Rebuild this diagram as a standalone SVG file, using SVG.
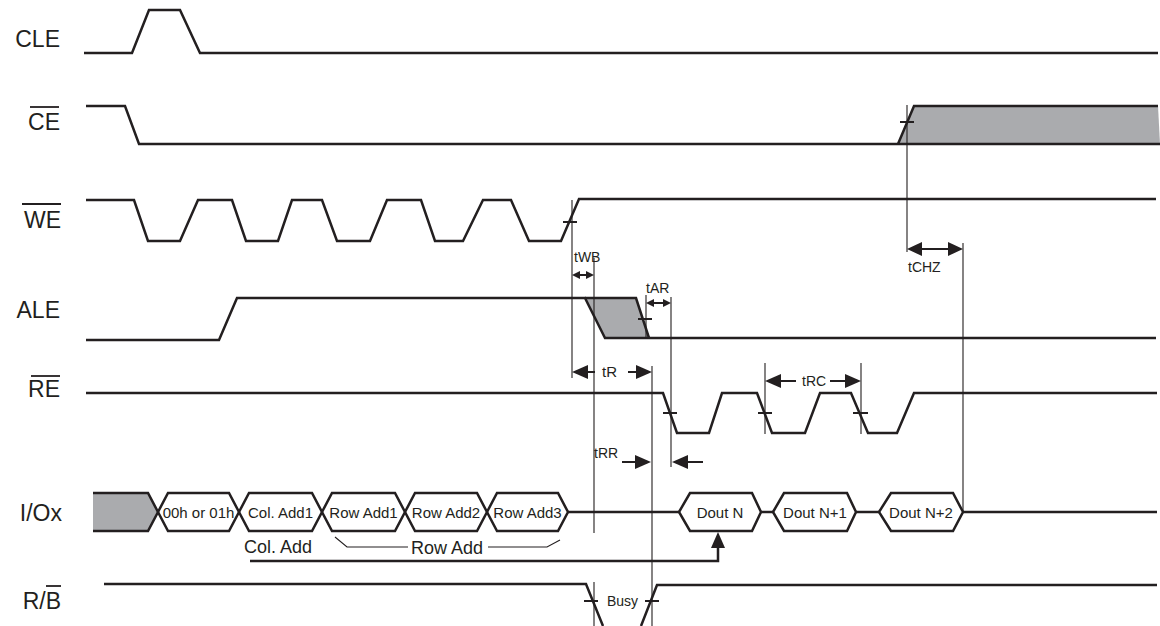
<svg xmlns="http://www.w3.org/2000/svg" width="1160" height="626" viewBox="0 0 1160 626">
<style>
.sig{fill:none;stroke:#231f20;stroke-width:2.5;stroke-linejoin:miter}
.thin{fill:none;stroke:#231f20;stroke-width:1.1}
.tick{fill:none;stroke:#231f20;stroke-width:2}
.gray{fill:#aaabae;stroke:none}
.ah{fill:#231f20;stroke:none}
.lbl{font-family:"Liberation Sans",Arial,sans-serif;font-size:23px;fill:#231f20;text-anchor:end}
.bus{font-family:"Liberation Sans",Arial,sans-serif;font-size:15px;fill:#231f20;text-anchor:middle}
.tm{font-family:"Liberation Sans",Arial,sans-serif;font-size:14px;fill:#231f20}
.big{font-family:"Liberation Sans",Arial,sans-serif;font-size:18px;fill:#231f20}
</style>
<rect width="1160" height="626" fill="#ffffff"/>

<g id="labels">
<text class="lbl" x="60" y="47">CLE</text>
<text class="lbl" x="60" y="130">CE</text>
<line class="tick" x1="30" y1="107" x2="59" y2="107" style="stroke-width:1.8"/>
<text class="lbl" x="61" y="228">WE</text>
<line class="tick" x1="22" y1="204" x2="61" y2="204" style="stroke-width:1.8"/>
<text class="lbl" x="60" y="318">ALE</text>
<text class="lbl" x="60" y="397">RE</text>
<line class="tick" x1="31" y1="376" x2="60" y2="376" style="stroke-width:1.8"/>
<text class="lbl" x="62" y="521">I/Ox</text>
<text class="lbl" x="61" y="609">R/B</text>
<line class="tick" x1="46" y1="586" x2="61" y2="586" style="stroke-width:1.8"/>
</g>

<g id="CLE">
<path class="sig" d="M84,53 H132 L149,10 H180 L200,53 H1158"/>
</g>

<g id="CE">
<polygon class="gray" points="898,144 914,106 1158,106 1160,144"/>
<path class="sig" d="M86,106 H125 L139,144 H1160"/>
<path class="sig" d="M898,144 L914,106 H1158"/>
<path class="tick" d="M900,122 H914"/>
</g>

<g id="WE">
<path class="sig" d="M86,200 H134 L148,241 H180 L198,200 H232 L246,241 H278 L292,200 H322 L337,241 H370 L387,200 H421 L435,241 H463 L483,200 H511 L529,241 H561 L579,199 H1156"/>
<path class="tick" d="M563,222 H577"/>
</g>

<g id="ALE">
<polygon class="gray" points="585,298 636,298 649,338 605,338"/>
<path class="sig" d="M86,340 H219 L237,298 H585 L605,338 H1156"/>
<path class="sig" d="M585,298 H636 L649,338"/>
<path class="tick" d="M638,319 H652"/>
</g>

<g id="RE">
<path class="sig" d="M86,393 H663 L677,433 H709 L722,393 H757 L772,433 H805 L820,393 H851 L868,433 H897 L914,393 H1157"/>
<path class="tick" d="M663,413 H677 M758,413 H772 M853,413 H868"/>
</g>

<g id="IOx">
<polygon class="gray" points="93,493 148,493 158,512 148,531 93,531"/>
<polyline class="sig" points="93,493 148,493 158,512 148,531 93,531"/>
<polygon class="sig" points="158,512 168,493 229,493 239,512 229,531 168,531"/>
<polygon class="sig" points="239,512 249,493 312,493 322,512 312,531 249,531"/>
<polygon class="sig" points="322,512 332,493 395,493 405,512 395,531 332,531"/>
<polygon class="sig" points="405,512 415,493 477,493 487,512 477,531 415,531"/>
<polygon class="sig" points="487,512 497,493 558,493 568,512 558,531 497,531"/>
<path class="sig" d="M568,512 H679"/>
<polygon class="sig" points="679,512 690,493 752,493 761,512 752,531 690,531"/>
<path class="sig" d="M761,512 H773"/>
<polygon class="sig" points="773,512 784,493 847,493 856,512 847,531 784,531"/>
<path class="sig" d="M856,512 H879"/>
<polygon class="sig" points="879,512 891,493 953,493 963,512 953,531 891,531"/>
<path class="sig" d="M963,512 H1157"/>
<text class="bus" x="198.5" y="517.5">00h or 01h</text>
<text class="bus" x="280.5" y="517.5">Col. Add1</text>
<text class="bus" x="363.5" y="517.5">Row Add1</text>
<text class="bus" x="446" y="517.5">Row Add2</text>
<text class="bus" x="527.5" y="517.5">Row Add3</text>
<text class="bus" x="720" y="517.5">Dout N</text>
<text class="bus" x="815" y="517.5">Dout N+1</text>
<text class="bus" x="921" y="517.5">Dout N+2</text>
<text class="big" x="244" y="553">Col. Add</text>
<text class="big" x="411" y="554">Row Add</text>
<path class="thin" d="M335,537 L347,547 H408 M488,547 H547 L560,540"/>
</g>

<g id="RB">
<path class="sig" d="M104,584 H586 L603,626"/>
<path class="sig" d="M641,626 L657,585 H1157"/>
<path class="tick" d="M584,601 H598 M645,601 H659"/>
<text class="tm" x="607" y="606">Busy</text>
</g>

<g id="connectors">
<!-- long address arrow to Dout N -->
<path class="sig" d="M250,561 H718 V547"/>
<polygon class="ah" points="718,532 711,548 725,548"/>
<!-- timing reference lines -->
<path class="thin" d="M907,105 V252 M963,243 V513 M572,200 V378 M594,258 V533 M594,582 V626 M646,295 V338 M671,297 V467 M652,366 V626 M765,363 V434 M861,363 V434"/>
<!-- tWB -->
<path class="tick" d="M576,275 H590"/>
<polygon class="ah" points="572,275 580,271 580,279"/>
<polygon class="ah" points="594,275 586,271 586,279"/>
<text class="tm" x="574" y="262">tWB</text>
<!-- tAR -->
<path class="tick" d="M650,303 H667"/>
<polygon class="ah" points="646,303 654,299 654,307"/>
<polygon class="ah" points="671,303 663,299 663,307"/>
<text class="tm" x="646" y="293">tAR</text>
<!-- tR -->
<path class="tick" d="M584,372 H595 M628,372 H640"/>
<polygon class="ah" points="572,372 588,365 588,379"/>
<polygon class="ah" points="652,372 636,365 636,379"/>
<text class="tm" x="602" y="377" style="font-size:15px">tR</text>
<!-- tRR -->
<path class="tick" d="M622,462 H638 M685,462 H703"/>
<polygon class="ah" points="651,462 635,455 635,469"/>
<polygon class="ah" points="672,462 688,455 688,469"/>
<text class="tm" x="594" y="458">tRR</text>
<!-- tRC -->
<path class="tick" d="M777,381 H796 M830,381 H849"/>
<polygon class="ah" points="765,381 781,374 781,388"/>
<polygon class="ah" points="861,381 845,374 845,388"/>
<text class="tm" x="802" y="386">tRC</text>
<!-- tCHZ -->
<path class="tick" d="M918,249 H952"/>
<polygon class="ah" points="907,249 922,242 922,256"/>
<polygon class="ah" points="963,249 948,242 948,256"/>
<text class="tm" x="908" y="272">tCHZ</text>
</g>
</svg>
